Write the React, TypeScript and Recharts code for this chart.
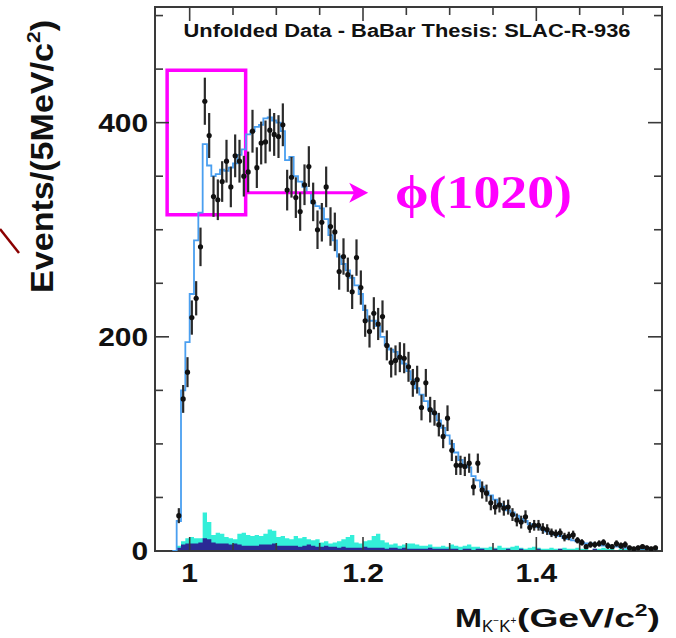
import React from "react";
import { Area, ComposedChart, ErrorBar, Line, ReferenceArea, ReferenceLine, Scatter, XAxis, YAxis } from "recharts";

const X_MIN = 0.96;
const X_MAX = 1.545;
const Y_MAX = 508;
const BIN_START = 0.985;
const BIN_WIDTH = 0.005;

// unfolded data, 5 MeV bins starting at 0.985 GeV
const dataCounts = [
  33, 142, 167, 218, 236, 284, 420, 388, 331, 328,
  345, 364, 340, 369, 364, 350, 354, 392, 358, 381,
  382, 393, 389, 387, 398, 337, 349, 330, 317, 342,
  359, 326, 300, 307, 340, 303, 298, 261, 275, 258,
  242, 274, 246, 215, 205, 222, 212, 219, 192, 176,
  178, 181, 180, 172, 157, 160, 134, 157, 132, 129,
  118, 107, 124, 94, 80, 80, 79, 82, 60, 82,
  57, 54, 45, 41, 43, 40, 41, 34, 29, 27,
  32, 22, 24, 24, 21, 20, 17, 16, 17, 13,
  14, 15, 10, 8, 4, 6, 6, 7, 8, 5,
  4, 7, 5, 6, 3, 2, 3, 4, 3, 2, 3,
];
const dataErrors = [
  7, 13, 14, 16, 16, 18, 22, 21, 19, 19,
  19, 20, 19, 20, 20, 19, 19, 20, 19, 20,
  20, 20, 20, 20, 20, 19, 19, 19, 18, 19,
  19, 18, 18, 18, 19, 18, 18, 17, 17, 16,
  16, 17, 16, 15, 15, 15, 15, 15, 14, 14,
  14, 14, 14, 14, 13, 13, 12, 13, 12, 12,
  11, 11, 12, 10, 9, 9, 9, 9, 8, 9,
  8, 8, 7, 7, 7, 7, 7, 6, 6, 6,
  6, 5, 5, 5, 5, 5, 4, 4, 4, 4,
  4, 4, 3, 3, 2, 3, 3, 3, 3, 3,
  2, 3, 3, 3, 2, 2, 2, 2, 2, 2, 2,
];
// MC histogram (blue outline)
const mcCounts = [
  28, 150, 195, 240, 290, 316, 380, 360, 350, 352,
  356, 355, 358, 362, 370, 375, 389, 392, 396, 398,
  404, 405, 402, 400, 392, 365, 368, 350, 345, 340,
  335, 325, 322, 320, 310, 295, 290, 275, 268, 262,
  255, 248, 240, 225, 215, 215, 210, 200, 192, 188,
  186, 180, 175, 168, 160, 152, 146, 140, 132, 128,
  122, 115, 108, 100, 92, 85, 80, 78, 70, 66,
  60, 56, 52, 48, 44, 42, 38, 36, 33, 30,
  28, 25, 24, 22, 20, 18, 16, 15, 14, 12,
  11, 10, 9, 8, 7, 7, 6, 6, 5, 5,
  4, 4, 4, 3, 3, 3, 2, 2, 2, 2, 2,
];
// background (cyan) and its dark component (navy)
const bkgTotal = [
  5, 9, 12, 13, 12, 12, 36, 27, 15, 17,
  16, 13, 12, 11, 16, 17, 15, 14, 15, 14,
  16, 20, 19, 13, 14, 12, 11, 14, 12, 13,
  11, 10, 11, 8, 9, 7, 8, 9, 11, 13,
  15, 8, 7, 9, 10, 14, 16, 10, 8, 6,
  7, 5, 6, 7, 7, 6, 5, 5, 6, 4,
  4, 5, 4, 6, 5, 4, 5, 6, 4, 4,
  3, 3, 4, 3, 5, 3, 3, 4, 5, 3,
  2, 3, 4, 3, 2, 2, 3, 2, 2, 3,
  2, 2, 3, 2, 2, 1, 2, 2, 3, 2,
  2, 1, 2, 2, 3, 2, 2, 2, 3, 2, 3,
];
const bkgDark = [
  3, 6, 7, 7, 7, 8, 12, 11, 8, 7,
  7, 7, 6, 7, 6, 5, 5, 5, 5, 6,
  6, 6, 7, 5, 5, 5, 5, 5, 4, 5,
  6, 5, 4, 4, 5, 4, 4, 3, 4, 3,
  3, 3, 3, 4, 3, 3, 3, 3, 2, 3,
  3, 2, 3, 2, 2, 2, 2, 2, 3, 2,
  2, 2, 2, 2, 2, 1, 2, 2, 1, 2,
  2, 1, 1, 2, 1, 1, 2, 1, 1, 2,
  1, 1, 1, 2, 1, 1, 1, 1, 2, 1,
  1, 1, 1, 1, 1, 1, 2, 1, 1, 1,
  1, 1, 1, 1, 1, 1, 1, 1, 1, 1, 1,
];

const xTicks = [1, 1.2, 1.4];
const xMinorTicks = [1.05, 1.1, 1.15, 1.25, 1.3, 1.35, 1.45, 1.5];
const yTicks = [0, 200, 400];
const yMinorTicks = [50, 100, 150, 250, 300, 350, 450, 500];

const phiBox = { x1: 0.974, x2: 1.0646, y1: 314, y2: 449 };
const phiArrow = { x1: 1.0646, x2: 1.206, y: 334.6 };

const W = 676;
const H = 638;
const PLOT_W = 507;
const PLOT_H = 544;
const PX_X = PLOT_W / (X_MAX - X_MIN);
const PX_Y = PLOT_H / Y_MAX;
const SANS = "'Liberation Sans', Arial, Helvetica, sans-serif";
const SERIF = "'Liberation Serif', 'Times New Roman', serif";
const FRAME = "#3a3a3a";
const MAGENTA = "#ff00ff";

const edge = (i: number) => Math.round((BIN_START + i * BIN_WIDTH) * 10000) / 10000;

const histRows = [
  { x: edge(-1), mc: 0, bkg: 0, dark: 0 },
  ...mcCounts.map((mc, i) => ({ x: edge(i), mc, bkg: bkgTotal[i], dark: bkgDark[i] })),
  {
    x: edge(mcCounts.length),
    mc: mcCounts[mcCounts.length - 1],
    bkg: bkgTotal[bkgTotal.length - 1],
    dark: bkgDark[bkgDark.length - 1],
  },
];

const points = dataCounts.map((y, i) => ({
  x: Math.round((BIN_START + (i + 0.5) * BIN_WIDTH) * 10000) / 10000,
  y,
  err: dataErrors[i],
}));

const XTick = ({ x, y, payload }: any) => (
  <text
    transform={`translate(${x},${y + 31}) scale(1.2,1)`}
    textAnchor="middle"
    fontFamily={SANS}
    fontWeight="bold"
    fontSize={25}
    fill="#111"
  >
    {payload.value}
  </text>
);

const YTick = ({ x, y, payload }: any) => (
  <text
    transform={`translate(${x},${y + 9}) scale(1.15,1)`}
    textAnchor="end"
    fontFamily={SANS}
    fontWeight="bold"
    fontSize={26}
    fill="#111"
  >
    {payload.value}
  </text>
);

const DataDot = ({ cx, cy }: any) => <circle cx={cx} cy={cy} r={2.6} fill="#111" />;

const ArrowShape = ({ x1, y1, x2, y2 }: any) => (
  <g>
    <line x1={x1} y1={y1} x2={x2 - 12} y2={y2} stroke={MAGENTA} strokeWidth={3} />
    <path d={`M${x2},${y2} L${x2 - 19},${y2 - 10} L${x2 - 14},${y2} L${x2 - 19},${y2 + 10} Z`} fill={MAGENTA} />
  </g>
);

function tickSegments() {
  const major = 14;
  const minor = 8;
  const lines: React.ReactNode[] = [];
  const add = (key: string, seg: { x: number; y: number }[]) =>
    lines.push(
      <ReferenceLine key={key} segment={seg} stroke={FRAME} strokeWidth={1.6} ifOverflow="visible" />
    );
  [...xTicks.map((t) => [t, major]), ...xMinorTicks.map((t) => [t, minor])].forEach(([t, len]) => {
    add(`b${t}`, [{ x: t, y: 0 }, { x: t, y: len / PX_Y }]);
    add(`t${t}`, [{ x: t, y: Y_MAX }, { x: t, y: Y_MAX - len / PX_Y }]);
  });
  [...yTicks.map((t) => [t, major]), ...yMinorTicks.map((t) => [t, minor])].forEach(([t, len]) => {
    add(`l${t}`, [{ x: X_MIN, y: t }, { x: X_MIN + len / PX_X, y: t }]);
    add(`r${t}`, [{ x: X_MAX, y: t }, { x: X_MAX - len / PX_X, y: t }]);
  });
  return lines;
}

export default function App() {
  return (
    <div style={{ position: "absolute", left: 0, top: 0, width: W, height: H, background: "#fff" }}>
      <ComposedChart
        width={W}
        height={H}
        data={histRows}
        margin={{ top: 7, right: W - 155 - PLOT_W, bottom: H - 7 - PLOT_H - 40, left: 75 }}
      >
        <XAxis
          dataKey="x"
          type="number"
          domain={[X_MIN, X_MAX]}
          ticks={xTicks}
          interval={0}
          allowDataOverflow
          tick={(p: any) => <XTick {...p} />}
          tickLine={false}
          axisLine={false}
          tickSize={0}
          tickMargin={0}
          height={40}
        />
        <YAxis
          type="number"
          domain={[0, Y_MAX]}
          ticks={yTicks}
          interval={0}
          allowDataOverflow
          tick={(p: any) => <YTick {...p} />}
          tickLine={false}
          axisLine={false}
          tickSize={0}
          tickMargin={7}
          width={80}
        />
        <Area type="stepAfter" dataKey="bkg" fill="#33efd9" fillOpacity={1} stroke="none" dot={false} activeDot={false} isAnimationActive={false} />
        <Area type="stepAfter" dataKey="dark" fill="#2a2a95" fillOpacity={1} stroke="none" dot={false} activeDot={false} isAnimationActive={false} />
        <Line type="stepAfter" dataKey="mc" stroke="#4a9ff0" strokeWidth={1.8} dot={false} activeDot={false} isAnimationActive={false} />
        <ReferenceArea x1={X_MIN} x2={X_MAX} y1={0} y2={Y_MAX} fill="none" stroke={FRAME} strokeWidth={2} ifOverflow="visible" />
        {tickSegments()}
        <ReferenceArea
          x1={phiBox.x1}
          x2={phiBox.x2}
          y1={phiBox.y1}
          y2={phiBox.y2}
          fill="none"
          fillOpacity={0}
          stroke={MAGENTA}
          strokeWidth={3.5}
          ifOverflow="visible"
        />
        <ReferenceLine
          segment={[{ x: phiArrow.x1, y: phiArrow.y }, { x: phiArrow.x2, y: phiArrow.y }]}
          stroke={MAGENTA}
          ifOverflow="visible"
          shape={(p: any) => <ArrowShape {...p} />}
        />
        <Scatter data={points} dataKey="y" shape={(p: any) => <DataDot {...p} />} isAnimationActive={false}>
          <ErrorBar dataKey="err" direction="y" width={0} stroke="#2a2a2a" strokeWidth={2.2} isAnimationActive={false} />
        </Scatter>
      </ComposedChart>
      <svg width={W} height={H} style={{ position: "absolute", left: 0, top: 0, pointerEvents: "none" }}>
        <line x1={0} y1={229} x2={19} y2={253} stroke="#8b0000" strokeWidth={2.5} />
        <text x={407} y={37} textAnchor="middle" fontFamily={SANS} fontWeight="bold" fontSize={18} fill="#111" textLength={447} lengthAdjust="spacingAndGlyphs">
          Unfolded Data - BaBar Thesis: SLAC-R-936
        </text>
        <text transform="translate(53,293) rotate(-90)" fontFamily={SANS} fontWeight="bold" fontSize={31} fill="#111" textLength={273} lengthAdjust="spacingAndGlyphs">
          Events/(5MeV/c<tspan fontSize={19} dy={-13}>2</tspan><tspan dy={13}>)</tspan>
        </text>
        <text x={395} y={208} fontFamily={SERIF} fontWeight="bold" fontSize={47} fill={MAGENTA} textLength={177} lengthAdjust="spacingAndGlyphs">
          ϕ(1020)
        </text>
        <text x={455} y={627} fontFamily={SANS} fontWeight="bold" fontSize={26} fill="#111" textLength={27} lengthAdjust="spacingAndGlyphs">
          M
        </text>
        <text x={482} y={632} fontFamily={SANS} fontSize={17} fill="#111">
          K<tspan fontSize={10} dy={-8}>−</tspan><tspan dy={8}>K</tspan><tspan fontSize={10} dy={-8}>+</tspan>
        </text>
        <text x={517} y={627} fontFamily={SANS} fontWeight="bold" fontSize={26} fill="#111" textLength={143} lengthAdjust="spacingAndGlyphs">
          (GeV/c<tspan fontSize={16} dy={-11}>2</tspan><tspan dy={11}>)</tspan>
        </text>
      </svg>
    </div>
  );
}
